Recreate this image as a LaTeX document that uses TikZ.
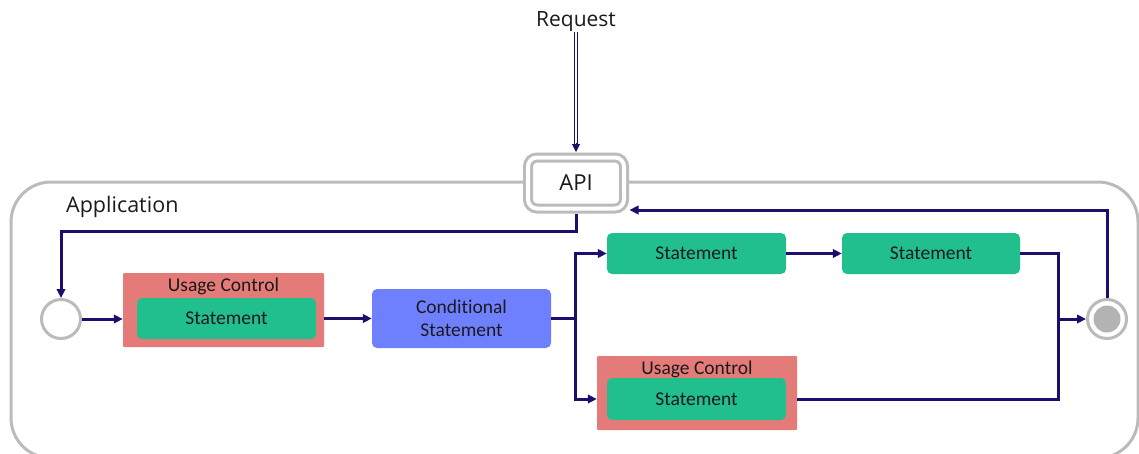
\documentclass[tikz,border=0pt]{standalone}
\usepackage{fontspec}
\setmainfont{Open Sans}
\newfontfamily\boxfont[Ligatures=NoCommon]{Carlito}
\usetikzlibrary{arrows.meta}
\definecolor{flowink}{HTML}{200C6C}
\definecolor{stmtgreen}{HTML}{22BF8E}
\definecolor{ucred}{HTML}{E57B79}
\definecolor{condblue}{HTML}{6F80FF}
\definecolor{framegray}{HTML}{BBBBBB}
\definecolor{coregray}{HTML}{B3B3B3}
\definecolor{inkblack}{HTML}{1A1A1A}
\begin{document}
\begin{tikzpicture}[x=1pt,y=-1pt,
  frame/.style={draw=framegray,line width=3pt},
  flow/.style={draw=flowink,line width=3pt},
  arrowed/.style={-{Triangle[length=9pt,width=8.5pt]}},
  stmtbox/.style={fill=stmtgreen,rounded corners=5pt,minimum width=179pt,minimum height=41pt,
    inner sep=0pt,font=\boxfont\fontsize{19.5}{23}\selectfont,text=inkblack},
  ucbox/.style={fill=ucred,rounded corners=1pt,minimum width=201pt,minimum height=74pt,inner sep=0pt},
  uclabel/.style={anchor=base,inner sep=0pt,font=\boxfont\fontsize{19.5}{23}\selectfont,text=inkblack},
  condbox/.style={fill=condblue,rounded corners=5pt,minimum width=179pt,minimum height=59pt,
    inner sep=0pt,align=center,font=\boxfont\fontsize{19.5}{23}\selectfont,text=inkblack},
  state/.style={circle,draw=framegray,line width=3pt,fill=white,minimum size=39pt,inner sep=0pt},
]
\useasboundingbox (0,0) rectangle (1139,453);
\clip (0,0) rectangle (1139,453);

% application frame
\draw[frame,rounded corners=40pt] (11,182) rectangle (1138,458);
\node[anchor=base west,inner sep=0pt,font=\fontsize{21.5}{25}\selectfont,text=inkblack] (app) at (66,212) {Application};

% API entry point
\node[frame,double=white,double distance=4pt,fill=white,rounded corners=9pt,
  minimum width=96pt,minimum height=51pt,inner sep=0pt,outer sep=5.5pt,
  font=\fontsize{22}{26}\selectfont,text=inkblack] (api) at (576,183) {API};

% incoming request
\node[anchor=base,inner sep=1pt,font=\fontsize{21}{25}\selectfont,text=inkblack] (req) at (576,26) {Request};
\draw[draw=flowink,line width=1pt,double=white,double distance=1.8pt] (req.south) -- ([yshift=8pt]api.north);
\draw[draw=flowink,line width=1pt,-{Triangle[length=8pt,width=8pt]}] ([yshift=9pt]api.north) -- (api.north);

% start and end states
\node[state] (start) at (61,319) {};
\node[state] (end) at (1107,319) {};
\node[circle,fill=coregray,minimum size=27pt,inner sep=0pt] (endcore) at (end) {};

% first usage control block
\node[ucbox] (uc1) at (223.5,310) {};
\node[uclabel] (ucl1) at (223.5,291) {Usage Control};
\node[stmtbox] (s1) at (226.5,318.5) {Statement};

% conditional
\node[condbox] (cond) at (461.5,318.5) {Conditional\\Statement};

% upper branch
\node[stmtbox] (st1) at (696.5,253.5) {Statement};
\node[stmtbox,minimum width=178pt] (st2) at (931,253.5) {Statement};

% lower branch
\node[ucbox,minimum width=200pt] (uc2) at (697,393) {};
\node[uclabel] (ucl2) at (697,374) {Usage Control};
\node[stmtbox,minimum height=42pt] (us2) at (696.5,399) {Statement};

\coordinate (split) at (575,318.5);
\coordinate (merge) at (1058,319);
\coordinate (retline) at (1107,210);

% connectors
\draw[flow,arrowed] (api.south) -- ++(0,17) -| (start.north);
\draw[flow,arrowed] (start) -- (start -| uc1.west);
\draw[flow,arrowed] (uc1.east |- cond) -- (cond.west);
\draw[flow] (cond.east) -- (split);
\draw[flow,arrowed] (split) |- (st1.west);
\draw[flow,arrowed] (split) |- (uc2.west |- us2);
\draw[flow,arrowed] (st1.east) -- (st2.west);
\draw[flow] (st2.east) -| (merge);
\draw[flow] (uc2.east |- us2) -| (merge);
\draw[flow,arrowed] (merge) -- (end.west);
\draw[flow,arrowed] (end.north) |- (api.east |- retline);
\end{tikzpicture}
\end{document}
